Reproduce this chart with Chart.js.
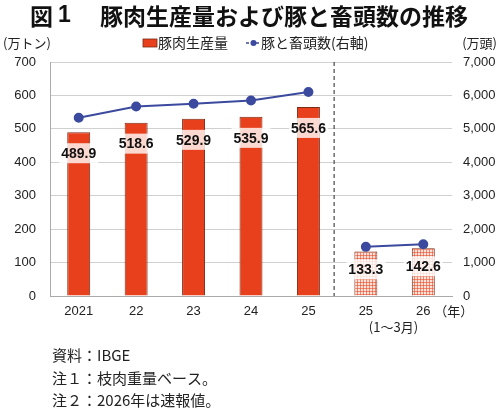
<!DOCTYPE html>
<html><head><meta charset="utf-8">
<script src="https://cdn.jsdelivr.net/npm/chart.js@4"></script>
<style>html,body{margin:0;padding:0;background:#fff}#wrap{width:500px;height:410px;position:relative}</style>
</head><body><div id="wrap"><canvas id="c" width="500" height="410"></canvas></div>
<script>
const categories = ['2021','22','23','24','25','25','26'];
const porkProduction = [489.9, 518.6, 529.9, 535.9, 565.6, 133.3, 142.6];
const slaughterHeads = [5330, 5670, 5750, 5850, 6100, 1470, 1550];
const leftTicks = [0,100,200,300,400,500,600,700];
const rightTicks = [0,1000,2000,3000,4000,5000,6000,7000];
const partialFrom = 5;

const FONT = "'Liberation Sans','Noto Sans CJK JP',sans-serif";
const JP = "'Noto Sans CJK JP',sans-serif";
const RED = '#E8401C';

// fine checkered pattern for partial-year bars
const pc = document.createElement('canvas'); pc.width = 3; pc.height = 3;
const px = pc.getContext('2d');
px.fillStyle = '#fbe3dc'; px.fillRect(0,0,3,3);
px.fillStyle = 'rgba(232,64,28,0.55)'; px.fillRect(0,0,3,1); px.fillRect(0,0,1,3);
const pattern = px.createPattern(pc,'repeat');

const overlay = {
  id:'overlay',
  afterDraw(chart){
    const {ctx, chartArea:a, scales:{x}} = chart;
    ctx.save();
    // title
    ctx.fillStyle = '#111';
    ctx.font = "bold 23px " + JP;
    ctx.textBaseline = 'middle'; ctx.textAlign = 'left';
    ctx.fillText('図', 30, 16);
    ctx.font = "bold 23px 'Liberation Sans',sans-serif";
    ctx.fillText('1', 58, 16);
    ctx.font = "bold 23px " + JP;
    ctx.fillText('豚肉生産量および豚と畜頭数の推移', 100, 16);
    // axis titles
    ctx.font = "13px " + JP;
    ctx.fillStyle = '#222';
    ctx.fillText('(万トン)', 3, 43);
    ctx.textAlign = 'right';
    ctx.fillText('(万頭)', 497, 43);
    // legend
    ctx.textAlign = 'left';
    ctx.font = "14px " + JP;
    ctx.fillStyle = RED; ctx.fillRect(143,39,14,8);
    ctx.strokeStyle = '#7a2a14'; ctx.lineWidth = 0.8; ctx.strokeRect(143,39,14,8);
    ctx.fillStyle = '#222';
    ctx.fillText('豚肉生産量', 158, 43);
    ctx.strokeStyle = '#3B4A9E'; ctx.lineWidth = 1.5;
    ctx.setLineDash([3,2]);
    ctx.beginPath(); ctx.moveTo(246,43); ctx.lineTo(261,43); ctx.stroke();
    ctx.setLineDash([]);
    ctx.fillStyle = '#3B4A9E'; ctx.beginPath(); ctx.arc(253.5,43,3,0,Math.PI*2); ctx.fill();
    ctx.fillStyle = '#222';
    ctx.fillText('豚と畜頭数(右軸)', 261, 43);
    // divider
    const xd = (x.getPixelForValue(4) + x.getPixelForValue(5))/2 - 3;
    ctx.strokeStyle = '#555'; ctx.lineWidth = 1.3; ctx.setLineDash([4,3]);
    ctx.beginPath(); ctx.moveTo(xd, a.top); ctx.lineTo(xd, a.bottom); ctx.stroke();
    ctx.setLineDash([]);
    // extra x labels
    ctx.font = "13px " + JP; ctx.fillStyle = '#222';
    ctx.textAlign = 'left';
    ctx.fillText('（年）', x.getPixelForValue(6) + 11, 311);
    ctx.fillText('(1〜3月)', x.getPixelForValue(5) + 3, 327);
    // notes
    ctx.font = "15px " + JP; ctx.fillStyle = '#222';
    ctx.fillText('資料：IBGE', 52, 355);
    ctx.fillText('注１：枝肉重量ベース。', 52, 378);
    ctx.fillText('注２：2026年は速報値。', 52, 400);
    ctx.restore();
  },
  afterDatasetsDraw(chart){
    const {ctx} = chart;
    const meta = chart.getDatasetMeta(1);
    ctx.save();
    ctx.font = "bold 14px " + FONT;
    ctx.textAlign = 'center'; ctx.textBaseline = 'middle';
    meta.data.forEach((bar,i)=>{
      const t = porkProduction[i].toFixed(1);
      const w = ctx.measureText(t).width + 4;
      const cy = bar.y + (i >= partialFrom ? 18 : 21);
      ctx.fillStyle = 'rgba(255,255,255,0.8)';
      ctx.fillRect(bar.x - w/2, cy - 10, w, 20);
      ctx.fillStyle = '#111';
      ctx.fillText(t, bar.x, cy + 1);
    });
    ctx.restore();
  }
};

new Chart(document.getElementById('c'), {
  data:{
    labels: categories,
    datasets:[
      {type:'line', label:'豚と畜頭数（右軸）', data: slaughterHeads, yAxisID:'y1', order:0,
       borderColor:'#3B4A9E', backgroundColor:'#3B4A9E', borderWidth:2, pointRadius:4, pointHoverRadius:4,
       tension:0,
       segment:{borderColor: c => c.p0DataIndex === partialFrom-1 ? 'rgba(0,0,0,0)' : undefined}},
      {type:'bar', label:'豚肉生産量', data: porkProduction, yAxisID:'y', order:1,
       backgroundColor: porkProduction.map((v,i)=> i>=partialFrom ? pattern : RED),
       borderColor:'#7a2a14', borderWidth:1, categoryPercentage:1, barPercentage:0.4}
    ]
  },
  options:{
    responsive:false, animation:false, devicePixelRatio:1,
    layout:{padding:{top:62,left:0,right:0,bottom:0}},
    plugins:{legend:{display:false}, tooltip:{enabled:false}},
    scales:{
      x:{grid:{display:false, drawTicks:false}, border:{display:true,color:'#aaa'},
         ticks:{padding:8, color:'#222', font:{size:13, family:FONT}},
         afterFit(s){ s.height = 114; }},
      y:{position:'left', min:0, max:700,
         afterBuildTicks(s){ const t=[]; for(let v=0; v<=700; v+=50) t.push({value:v}); s.ticks=t; },
         ticks:{padding:14, color:'#222', font:{size:13, family:FONT},
                callback:v=> leftTicks.includes(v) ? String(v) : ''},
         grid:{color:'#d0d0d0', drawTicks:false, lineWidth:1},
         border:{display:true, color:'#aaa'},
         afterFit(s){ s.width = 50; }},
      y1:{position:'right', min:0, max:7000,
          afterBuildTicks(s){ s.ticks = rightTicks.map(v=>({value:v})); },
          ticks:{padding:11, color:'#222', font:{size:13, family:FONT},
                 callback:v=> v.toLocaleString('en-US')},
          grid:{display:false, drawTicks:false}, border:{display:false},
          afterFit(s){ s.width = 48; }}
    }
  },
  plugins:[overlay]
});
</script></body></html>
